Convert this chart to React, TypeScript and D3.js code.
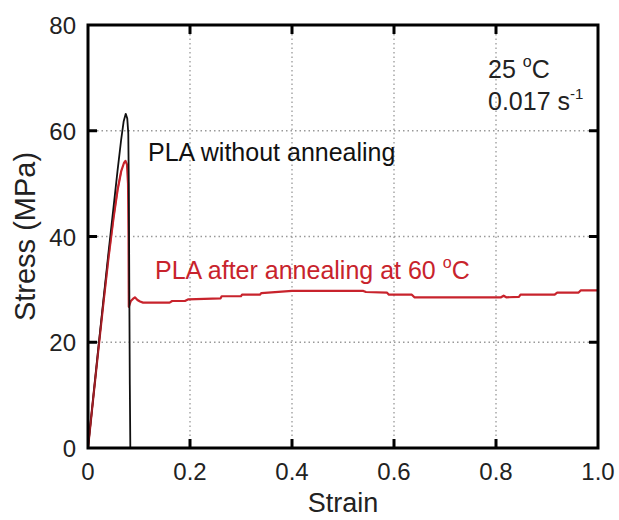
import React from "react";
import * as d3 from "d3";

const xTicks = [0, 0.2, 0.4, 0.6, 0.8, 1.0];
const xTickLabels = ["0", "0.2", "0.4", "0.6", "0.8", "1.0"];
const yTicks = [0, 20, 40, 60, 80];

const blackStrain = [0, 0.01, 0.02, 0.03, 0.04, 0.05, 0.058, 0.065, 0.07, 0.074, 0.077, 0.079, 0.080, 0.081, 0.082, 0.083];
const blackStress = [0, 9.3, 18.6, 27.8, 36.8, 45.5, 52.5, 58.3, 61.8, 63.2, 62.3, 59.5, 50, 30, 12, 0];

const redStrain = [0, 0.01, 0.02, 0.03, 0.04, 0.05, 0.058, 0.065, 0.0705, 0.0735, 0.0765, 0.0785, 0.0795, 0.080, 0.084, 0.088, 0.092, 0.097, 0.102, 0.108, 0.16, 0.165, 0.19, 0.196, 0.26, 0.262, 0.3, 0.302, 0.337, 0.34, 0.40, 0.54, 0.545, 0.586, 0.59, 0.635, 0.64, 0.81, 0.815, 0.82, 0.845, 0.848, 0.915, 0.92, 0.962, 0.966, 1.0];
const redStress = [0, 9.2, 18.3, 27.2, 35.8, 43.5, 48.8, 52.3, 53.9, 54.3, 53.6, 50, 40, 26.7, 27.8, 28.2, 28.5, 28.0, 27.7, 27.5, 27.5, 27.8, 27.8, 28.1, 28.3, 28.7, 28.7, 29.0, 29.0, 29.3, 29.7, 29.7, 29.5, 29.4, 29.0, 29.0, 28.5, 28.5, 28.8, 28.5, 28.6, 29.0, 29.0, 29.4, 29.4, 29.8, 29.8];

const W = 619, H = 520;
const L = 88, R = 598, T = 25, B = 448;
const RED = "#c8232c";
const FONT = "'Liberation Sans', Arial, sans-serif";

export default function App() {
  const x = d3.scaleLinear().domain([0, 1]).range([L, R]);
  const y = d3.scaleLinear().domain([0, 80]).range([B, T]);
  const line = d3.line<[number, number]>().x(d => x(d[0])).y(d => y(d[1]));
  const blackPts = blackStrain.map((s, i) => [s, blackStress[i]] as [number, number]);
  const redPts = redStrain.map((s, i) => [s, redStress[i]] as [number, number]);
  return (
    <svg width={W} height={H} style={{ position: "absolute", left: 0, top: 0, background: "#fff" }} fontFamily={FONT}>
      <rect x={0} y={0} width={W} height={H} fill="#fff" />
      {xTicks.slice(1, -1).map(t => (
        <line key={"gx" + t} x1={x(t)} x2={x(t)} y1={T} y2={B} stroke="#999" strokeWidth={1.3} strokeDasharray="1.5,3" />
      ))}
      {yTicks.slice(1, -1).map(t => (
        <line key={"gy" + t} x1={L} x2={R} y1={y(t)} y2={y(t)} stroke="#999" strokeWidth={1.3} strokeDasharray="1.5,3" />
      ))}
      <path d={line(redPts) || ""} fill="none" stroke={RED} strokeWidth={2.2} strokeLinejoin="round" />
      <path d={line(blackPts) || ""} fill="none" stroke="#111" strokeWidth={1.8} strokeLinejoin="round" />
      <path d={line(redPts.slice(0, 8)) || ""} fill="none" stroke={RED} strokeWidth={1.6} opacity={0.8} />
      <rect x={L} y={T} width={R - L} height={B - T} fill="none" stroke="#000" strokeWidth={3} />
      {xTicks.slice(1, -1).map(t => (
        <g key={"tx" + t}>
          <line x1={x(t)} x2={x(t)} y1={B} y2={B - 9} stroke="#000" strokeWidth={3} />
          <line x1={x(t)} x2={x(t)} y1={T} y2={T + 9} stroke="#000" strokeWidth={3} />
        </g>
      ))}
      {yTicks.slice(1, -1).map(t => (
        <g key={"ty" + t}>
          <line x1={L} x2={L + 9} y1={y(t)} y2={y(t)} stroke="#000" strokeWidth={3} />
          <line x1={R} x2={R - 9} y1={y(t)} y2={y(t)} stroke="#000" strokeWidth={3} />
        </g>
      ))}
      {xTicks.map((t, i) => (
        <text key={"lx" + t} x={x(t)} y={B + 32} textAnchor="middle" fontSize={24} fill="#222">{xTickLabels[i]}</text>
      ))}
      {yTicks.map(t => (
        <text key={"ly" + t} x={L - 12} y={y(t) + 9} textAnchor="end" fontSize={24} fill="#222">{t}</text>
      ))}
      <text x={(L + R) / 2} y={512} textAnchor="middle" fontSize={27} fill="#222">Strain</text>
      <text transform={`translate(35,${(T + B) / 2}) rotate(-90)`} textAnchor="middle" fontSize={29} fill="#222">Stress (MPa)</text>
      <text x={148} y={161} fontSize={25} fill="#111">PLA without annealing</text>
      <text x={155} y={279} fontSize={25} fill={RED}>PLA after annealing at 60 <tspan fontSize={16} dy={-11}>o</tspan><tspan dy={11}>C</tspan></text>
      <text x={488} y={78} fontSize={25} fill="#222">25 <tspan fontSize={16} dy={-11}>o</tspan><tspan dy={11}>C</tspan></text>
      <text x={488} y={110} fontSize={25} fill="#222">0.017 s<tspan fontSize={15} dy={-11}>-1</tspan></text>
    </svg>
  );
}
